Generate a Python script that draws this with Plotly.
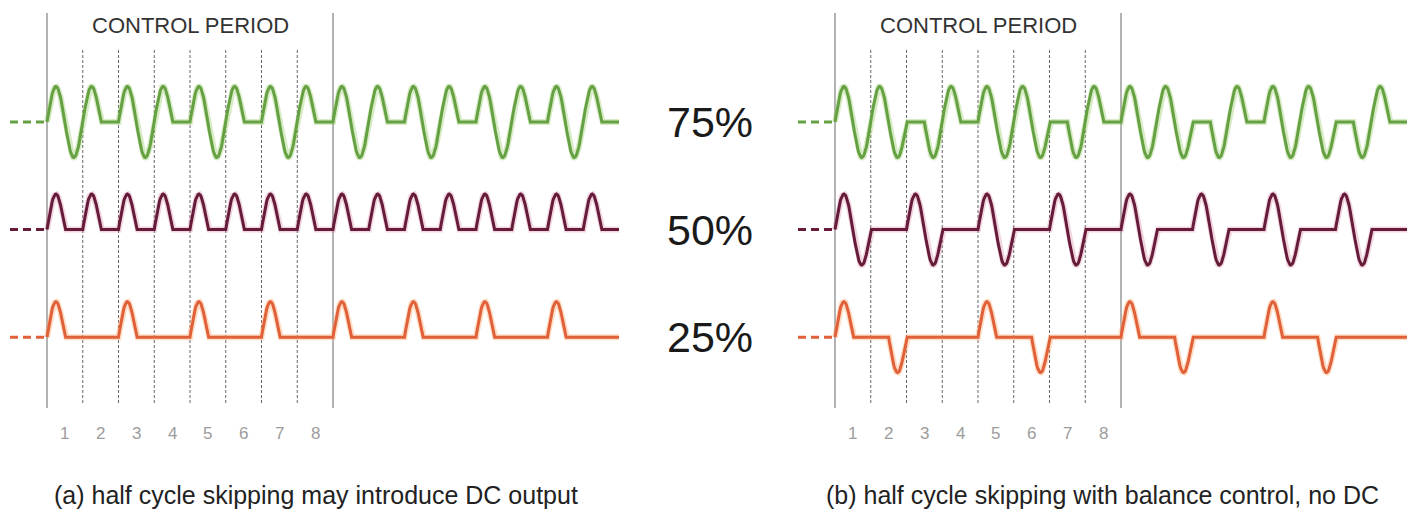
import numpy as np
import plotly.graph_objects as go

# ---------------- data ----------------
# polarity of each half cycle: +1 positive half wave, -1 negative half wave, 0 skipped
green_a = [1, -1, 1, 0, 1, -1, 1, 0, 1, -1, 1, 0, 1, -1, 1, 0,
           1, -1, 1, 0, 1, -1, 1, 0, 1, -1, 1, 0, 1, -1, 1, 0]
purple_a = [1, 0, 1, 0, 1, 0, 1, 0, 1, 0, 1, 0, 1, 0, 1, 0,
            1, 0, 1, 0, 1, 0, 1, 0, 1, 0, 1, 0, 1, 0, 1, 0]
orange_a = [1, 0, 0, 0, 1, 0, 0, 0, 1, 0, 0, 0, 1, 0, 0, 0,
            1, 0, 0, 0, 1, 0, 0, 0, 1, 0, 0, 0, 1, 0, 0, 0]

green_b = [1, -1, 1, -1, 0, -1, 1, 0, 1, -1, 1, -1, 0, -1, 1, 0,
           1, -1, 1, -1, 0, -1, 1, 0, 1, -1, 1, -1, 0, -1, 1, 0]
purple_b = [1, -1, 0, 0, 1, -1, 0, 0, 1, -1, 0, 0, 1, -1, 0, 0,
            1, -1, 0, 0, 1, -1, 0, 0, 1, -1, 0, 0, 1, -1, 0, 0]
orange_b = [1, 0, 0, -1, 0, 0, 0, 0, 1, 0, 0, -1, 0, 0, 0, 0,
            1, 0, 0, -1, 0, 0, 0, 0, 1, 0, 0, -1, 0, 0, 0, 0]

percent_labels = ["75%", "50%", "25%"]
slot_labels = ["1", "2", "3", "4", "5", "6", "7", "8"]
period_title = "CONTROL PERIOD"
captions = ["(a) half cycle skipping may introduce DC output",
            "(b) half cycle skipping with balance control, no DC"]

# ---------------- styling / layout ----------------
W, H = 1419, 514
HC_PX = 17.875          # pixels per half cycle
AMP_PX = 35.5           # pixels per unit amplitude
colors = ["#65a043", "#651b39", "#e0603a"]
halos = ["rgba(140,200,90,0.35)", "rgba(200,90,130,0.25)", "rgba(255,170,110,0.40)"]
row_offsets = [0.0, -3.03, -6.06]
half_per_slot = 2
n_slots = len(slot_labels)
lead_in = 2.07          # half cycles of dashed lead-in

# y axis: 0 at pixel 122 (green baseline)
y_top = 122 / AMP_PX
y_range = [y_top - H / AMP_PX, y_top]
def ypx(p):
    return y_top - p / AMP_PX

# left panel origin at px 47, right panel origin at px 835
left_origin, right_origin = 47, 835
mid = W / 2
xa_range = [-left_origin / HC_PX, (mid - left_origin) / HC_PX]
xb_range = [(mid - right_origin) / HC_PX, (W - right_origin) / HC_PX]


def wave(pattern, n=25):
    t, y = [], []
    for k, s in enumerate(pattern):
        tt = np.linspace(k, k + 1, n)
        if k > 0:
            tt = tt[1:]
        t.extend(tt)
        y.extend(s * np.sin(np.pi * (tt - k)))
    return np.array(t), np.array(y)


fig = go.Figure()
panels = [("x", "y", [green_a, purple_a, orange_a]),
          ("x2", "y", [green_b, purple_b, orange_b])]

for xref, yref, pats in panels:
    for pat, col, halo, off in zip(pats, colors, halos, row_offsets):
        t, y = wave(pat)
        fig.add_trace(go.Scatter(x=t, y=y + off, mode="lines", xaxis=xref, yaxis=yref,
                                 line=dict(color=halo, width=6), hoverinfo="skip",
                                 showlegend=False))
        fig.add_trace(go.Scatter(x=t, y=y + off, mode="lines", xaxis=xref, yaxis=yref,
                                 line=dict(color=col, width=3), hoverinfo="skip",
                                 showlegend=False))
        fig.add_trace(go.Scatter(x=[-lead_in, 0], y=[off, off], mode="lines",
                                 xaxis=xref, yaxis=yref,
                                 line=dict(color=col, width=3, dash="8px,5px"),
                                 hoverinfo="skip", showlegend=False))

shapes = []
annotations = []
period_len = n_slots * half_per_slot
for xref in ["x", "x2"]:
    for xb in [0, period_len]:
        shapes.append(dict(type="line", xref=xref, yref="y", x0=xb, x1=xb,
                           y0=ypx(13), y1=ypx(408), layer="below",
                           line=dict(color="#8a8a8a", width=1.3)))
    for k in range(1, n_slots):
        xb = k * half_per_slot
        shapes.append(dict(type="line", xref=xref, yref="y", x0=xb, x1=xb,
                           y0=ypx(50), y1=ypx(405), layer="below",
                           line=dict(color="#666666", width=1, dash="3px,2px")))
    for k, lab in enumerate(slot_labels):
        annotations.append(dict(x=k * half_per_slot + half_per_slot / 2, y=ypx(433),
                                xref=xref, yref="y", text=lab, showarrow=False,
                                xanchor="center", yanchor="middle",
                                font=dict(size=17, color="#9c9c9c")))
    annotations.append(dict(x=period_len / 2, y=ypx(25), xref=xref, yref="y",
                            text=period_title, showarrow=False,
                            xanchor="center", yanchor="middle",
                            font=dict(size=22, color="#333333")))

for lab, off in zip(percent_labels, row_offsets):
    annotations.append(dict(x=0.5, y=off, xref="paper", yref="y", text=lab,
                            showarrow=False, xanchor="center", yanchor="middle",
                            font=dict(size=43, color="#1a1a1a")))

for cap, cx in zip(captions, [315.5 / W, 1102.5 / W]):
    annotations.append(dict(x=cx, y=ypx(495), xref="paper", yref="y", text=cap,
                            showarrow=False, xanchor="center", yanchor="middle",
                            font=dict(size=25, color="#222222")))

fig.update_layout(
    width=W, height=H,
    margin=dict(l=0, r=0, t=0, b=0),
    paper_bgcolor="white", plot_bgcolor="white",
    font=dict(family="Liberation Sans, Arial, sans-serif"),
    xaxis=dict(domain=[0, 0.5], range=xa_range, visible=False, fixedrange=True),
    xaxis2=dict(domain=[0.5, 1], range=xb_range, visible=False, fixedrange=True),
    yaxis=dict(domain=[0, 1], range=y_range, visible=False, fixedrange=True),
    shapes=shapes, annotations=annotations,
)

fig.write_html("out.html", config={"displayModeBar": False},
               post_script="document.body.style.margin='0';document.body.style.padding='0';document.body.style.overflow='hidden';")
